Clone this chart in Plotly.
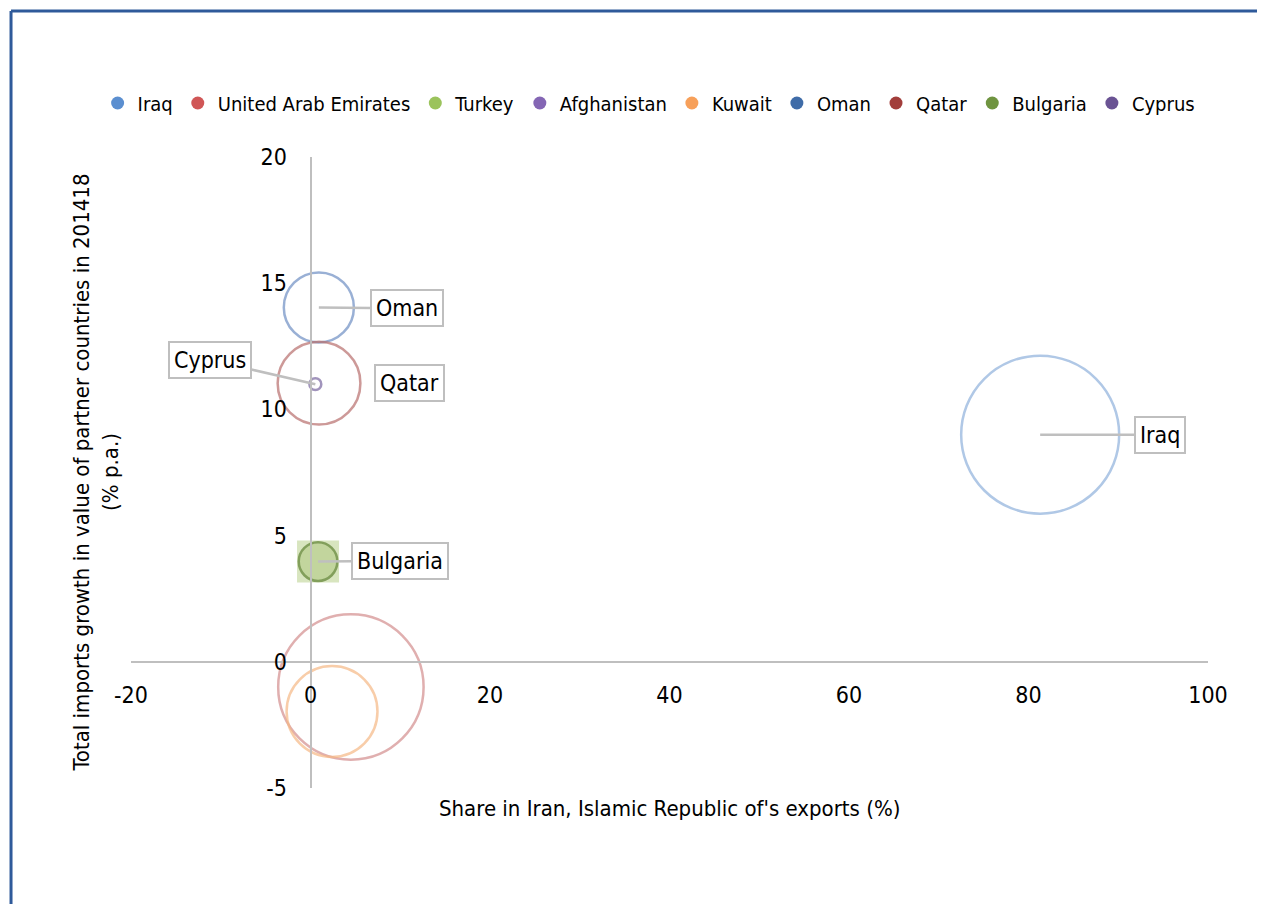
import plotly.graph_objects as go

# ---- data ----
countries = ["Iraq", "United Arab Emirates", "Turkey", "Afghanistan", "Kuwait",
             "Oman", "Qatar", "Bulgaria", "Cyprus"]
share_exports = [81.3, 4.5, None, None, 2.4, 0.93, 0.95, 0.84, 0.54]      # x (%)
imports_growth = [9.0, -1.0, None, None, -1.97, 14.04, 11.04, 3.97, 11.0]  # y (% p.a.)
bubble_value = [6200, 5250, None, None, 2050, 1220, 1700, 370, 35]         # bubble size
labelled = ["Iraq", "Oman", "Qatar", "Bulgaria", "Cyprus"]

x_range = [-20, 100]
y_range = [-5, 20]
x_ticks = [-20, 0, 20, 40, 60, 80, 100]
x_tick_labels = ["-20", "0", "20", "40", "60", "80", "100"]
y_ticks = [-5, 0, 5, 10, 15, 20]
y_tick_labels = ["-5", "0", "5", "10", "15", "20"]

legend_colors = ["#5B8FD0", "#D05656", "#9BC35C", "#8466B4", "#F7A05A",
                 "#3F6CA8", "#A23E3B", "#6F9440", "#6A5393"]
line_colors = ["#8FB1DC", "#D48E8E", "#9BC35C", "#8466B4", "#F6B885",
               "#6F8FC4", "#B86F6D", "#5F8232", "#7A67A0"]

FONT = "Liberation Sans Narrow, DejaVu Sans Condensed, Arial Narrow, sans-serif"

fig = go.Figure()

max_v = max(v for v in bubble_value if v is not None)
sizeref = 2.0 * max_v / (158 ** 2)

# Bulgaria's light-green square background (Excel pattern artifact)
bi = countries.index("Bulgaria")
fig.add_trace(go.Scatter(
    x=[share_exports[bi]], y=[imports_growth[bi]], mode="markers",
    marker=dict(symbol="square", size=42, color="#D8E5BF", line=dict(width=0)),
    showlegend=False, hoverinfo="skip"))

# bubbles
for i, c in enumerate(countries):
    if share_exports[i] is None:
        continue
    fill = "rgba(255,255,255,0)"
    if c == "Bulgaria":
        fill = "#B9CF8F"
    fig.add_trace(go.Scatter(
        x=[share_exports[i]], y=[imports_growth[i]], mode="markers",
        marker=dict(size=[bubble_value[i]], sizemode="area", sizeref=sizeref,
                    color=fill, line=dict(color=line_colors[i], width=2.5)),
        name=c, showlegend=False, hovertemplate=c + "<br>%{x}, %{y}<extra></extra>"))

# legend entries
for i, c in enumerate(countries):
    fig.add_trace(go.Scatter(
        x=[None], y=[None], mode="markers", name=c,
        marker=dict(size=13, color=legend_colors[i], line=dict(width=0))))

# callout labels
offsets = {"Iraq": (120, 0, True), "Oman": (88, 1, True), "Qatar": (90, 0, False),
           "Bulgaria": (82, -1, True), "Cyprus": (-105, -24, True)}
for c in labelled:
    i = countries.index(c)
    ax, ay, arrow = offsets[c]
    ann = dict(x=share_exports[i], y=imports_growth[i], xref="x", yref="y",
               text=c, font=dict(family=FONT, size=23, color="#000000"),
               bgcolor="#FFFFFF", bordercolor="#BFBFBF", borderwidth=2, borderpad=4)
    if arrow:
        ann.update(showarrow=True, ax=ax, ay=ay, axref="pixel", ayref="pixel",
                   arrowhead=0, arrowwidth=2.5, arrowcolor="#BFBFBF", standoff=0)
    else:
        ann.update(showarrow=False, xshift=ax, yshift=-ay)
    fig.add_annotation(**ann)

# axis titles
fig.add_annotation(text="Share in Iran, Islamic Republic of's exports (%)",
                   xref="paper", yref="paper", x=0.5, y=-0.032, showarrow=False,
                   xanchor="center", yanchor="middle",
                   font=dict(family=FONT, size=22, color="#000000"))
fig.add_annotation(text="Total imports growth in value of partner countries in 201418<br>(% p.a.)",
                   xref="paper", yref="paper", x=-0.0325, y=0.5, showarrow=False,
                   textangle=-90, xanchor="center", yanchor="middle",
                   font=dict(family=FONT, size=22, color="#000000"))

# frame lines
fig.add_shape(type="line", xref="paper", yref="paper", x0=-0.1114, x1=1.06,
              y0=1.2314, y1=1.2314, line=dict(color="#2F5A9A", width=3))
fig.add_shape(type="line", xref="paper", yref="paper", x0=-0.1114, x1=-0.1114,
              y0=1.2314, y1=-0.2, line=dict(color="#2F5A9A", width=3))

x_pos = (0 - y_range[0]) / (y_range[1] - y_range[0])
y_pos = (0 - x_range[0]) / (x_range[1] - x_range[0])

fig.update_layout(
    width=1257, height=896,
    margin=dict(l=123, r=57, t=149, b=116),
    paper_bgcolor="#FFFFFF", plot_bgcolor="#FFFFFF",
    font=dict(family=FONT, size=23, color="#000000"),
    xaxis=dict(range=x_range, tickvals=x_ticks, ticktext=x_tick_labels,
               showgrid=False, zeroline=False,
               showline=True, linecolor="#BFBFBF", linewidth=2,
               anchor="free", position=x_pos, ticks="", ticklabelstandoff=13,
               tickfont=dict(family=FONT, size=23, color="#000000")),
    yaxis=dict(range=y_range, tickvals=y_ticks, ticktext=y_tick_labels,
               showgrid=False, zeroline=False,
               showline=True, linecolor="#BFBFBF", linewidth=2,
               anchor="free", position=y_pos, ticks="", ticklabelstandoff=18,
               tickfont=dict(family=FONT, size=23, color="#000000")),
    legend=dict(orientation="h", xref="paper", x=-0.031, xanchor="left",
                yref="paper", y=1.0856, yanchor="middle",
                font=dict(family=FONT, size=20, color="#000000"),
                itemwidth=30, bgcolor="rgba(0,0,0,0)"),
    showlegend=True,
)

fig.write_html("out.html")
